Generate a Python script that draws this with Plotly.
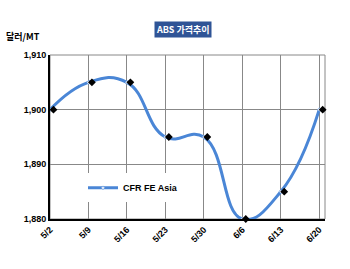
import plotly.graph_objects as go

dates = ["5/2", "5/9", "5/16", "5/23", "5/30", "6/6", "6/13", "6/20"]
prices = [1900, 1905, 1905, 1895, 1895, 1880, 1885, 1900]
series_name = "CFR FE Asia"
y_ticks = [1880, 1890, 1900, 1910]
y_tick_labels = ["1,880", "1,890", "1,900", "1,910"]

FONT = "Liberation Sans, Arial, sans-serif"
X_RANGE = [0, 7.15]
Y_RANGE = [1880, 1910]
# small horizontal shift of the black shadow markers (as in the source chart)
SHIFT_X = 0.09

xs = list(range(len(dates)))

fig = go.Figure()
fig.add_trace(go.Scatter(
    x=xs, y=prices, mode="lines+markers", name=f"<b>{series_name}</b>",
    line=dict(color="#4a86d6", width=3, shape="spline", smoothing=1.3),
    marker=dict(symbol="diamond", size=3, color="#dfe9f7", line=dict(color="#4a86d6", width=0.5)),
))
fig.add_trace(go.Scatter(
    x=xs, y=prices, mode="markers", xaxis="x2", yaxis="y",
    marker=dict(symbol="diamond", size=6, color="black"),
    showlegend=False, hoverinfo="skip", cliponaxis=False,
))

fig.update_layout(
    width=350, height=269,
    margin=dict(l=50, r=25, t=55, b=50),
    paper_bgcolor="white", plot_bgcolor="white",
    font=dict(family=FONT, size=9, color="black"),
    showlegend=True,
    legend=dict(x=0.12, y=0.19, xanchor="left", yanchor="middle", bgcolor="white",
                font=dict(family=FONT, size=9, color="black"), itemwidth=30,
                borderwidth=0),
    xaxis2=dict(overlaying="x", range=[X_RANGE[0] - SHIFT_X, X_RANGE[1] - SHIFT_X], visible=False),
    annotations=[
        dict(text="<b>ABS 가격추이</b>", x=183, y=21,
             showarrow=False, font=dict(family="Noto Sans CJK KR, sans-serif", size=9, color="white"),
             bgcolor="#2f5496", borderpad=1),
        dict(text="<b>달러/MT</b>", x=4, y=37, xanchor="left", yanchor="middle",
             showarrow=False, font=dict(family="Noto Sans CJK KR, sans-serif", size=9, color="black")),
    ],
)
pw, ph = 350 - 50 - 25, 269 - 55 - 50
for a in fig.layout.annotations:
    a.xref = "paper"; a.yref = "paper"
    a.x = (a.x - 50) / pw
    a.y = 1 - (a.y - 55) / ph

fig.layout.xaxis.update(
    range=X_RANGE, tickmode="array", tickvals=xs, ticktext=[f"<b>{d}</b>" for d in dates],
    tickangle=-45, showgrid=True, gridcolor="#888888", gridwidth=1,
    showline=True, linecolor="black", linewidth=2,
    ticks="", tickfont=dict(size=9), zeroline=False,
)
fig.layout.yaxis.update(
    range=Y_RANGE, tickmode="array", tickvals=y_ticks, ticktext=[f"<b>{t}</b>" for t in y_tick_labels],
    showgrid=True, gridcolor="#888888", gridwidth=1,
    showline=True, linecolor="black", linewidth=2, ticks="", tickfont=dict(size=9), zeroline=False,
)
fig.add_shape(type="rect", xref="paper", yref="paper", x0=0, x1=1, y0=0, y1=1,
              line=dict(color="#888888", width=1), layer="below")

fig.write_html("out.html")
